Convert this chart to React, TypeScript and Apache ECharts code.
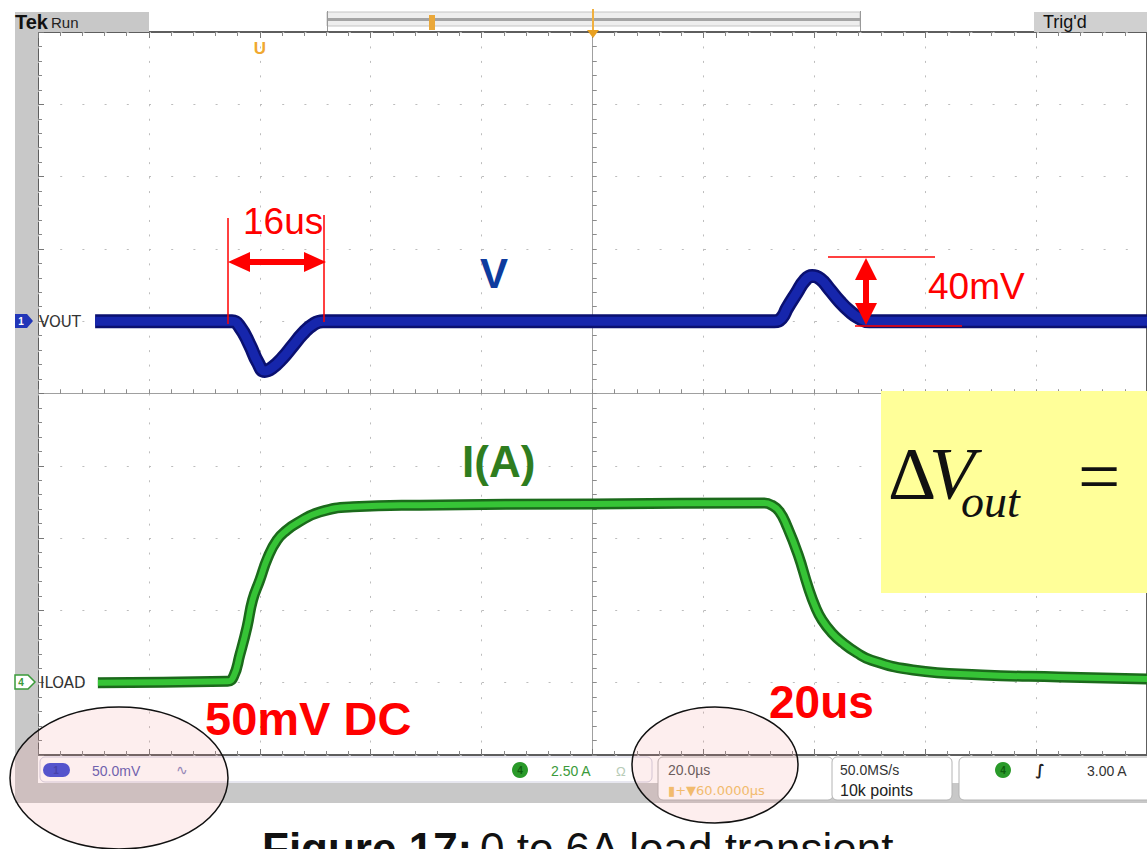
import React, { useEffect, useRef } from 'react';
import * as echarts from 'echarts';

// Oscilloscope capture: 20 us/div horizontally, CH1 50 mV/div, CH4 2.50 A/div
// Time in microseconds relative to the trigger (screen centre)
const vTime = [-89.7, -65.0, -63.6, -61.8, -60.4, -59.1, -57.8, -55.9, -54.1, -52.3, -50.5, -48.6,
  32.8, 34.1, 35.1, 36.8, 38.2, 39.6, 41.1, 42.7, 44.5, 46.3, 48.1, 49.9, 100];
// VOUT deviation (mV) from its DC level
const vOut = [0, 0, -4.0, -16.5, -28.2, -34.4, -32.3, -25.4, -17.1, -8.8, -2.6, 0,
  0, 2.2, 9.1, 19.5, 27.8, 31.3, 29.2, 22.3, 14.0, 7.1, 2.2, 0, 0];

const iTime = [-89.2, -65.8, -64.7, -63.6, -62.3, -61.3, -60.0, -58.6, -56.9, -55.1, -53.3, -49.2, -43.2, -31.2, 0,
  31.0, 32.3, 33.7, 35.1, 37.1, 38.9, 40.2, 41.4, 43.2, 45.2, 47.7, 50.3, 57.8, 70.3, 84.1, 100];
// ILOAD (A)
const iLoad = [0, 0.05, 0.23, 0.96, 1.93, 2.86, 3.55, 4.31, 4.93, 5.28, 5.52, 5.9, 6.08, 6.14, 6.18,
  6.21, 6.14, 5.92, 5.4, 4.42, 3.3, 2.62, 2.17, 1.72, 1.37, 1.03, 0.78, 0.44, 0.27, 0.2, 0.13];

const timeRange = [-100, 100];
const timePerDiv = 20;
const divRange = [-5, 5];
const voltRange = [-300, 200]; // mV, 50 mV/div
const ampRange = [-2.5, 22.5]; // A, 2.5 A/div

const SANS = "'Liberation Sans', Arial, sans-serif";
const SERIF = "'Liberation Serif', 'Times New Roman', serif";
const RED = '#ff0000';

function txt(x: number, y: number, text: string, font: string, fill: string, extra: any = {}) {
  return {
    type: 'text', x, y, z: 100,
    style: { text, font, fill, textAlign: extra.align || 'left', textVerticalAlign: 'middle', ...(extra.style || {}) },
  };
}

export default function App() {
  const ref = useRef<HTMLDivElement>(null);
  useEffect(() => {
    document.body.style.margin = '0';
    document.body.style.overflow = 'hidden';
    const chart = echarts.init(ref.current!, null, { renderer: 'svg' });
    const tickCol = '#8c8c8c';
    const centreX = (inside: boolean, split: boolean) => ({
      type: 'value', min: timeRange[0], max: timeRange[1], interval: timePerDiv,
      axisLine: { show: true, onZero: true, onZeroAxisIndex: 0, lineStyle: { color: '#a0a0a0', width: 1 } },
      axisTick: { show: true, inside, length: 4, lineStyle: { color: tickCol } },
      minorTick: { show: true, splitNumber: 5, length: 4, lineStyle: { color: tickCol } },
      axisLabel: { show: false },
      splitLine: { show: split, lineStyle: { color: '#bdbdbd', width: 1, type: [2, 12.46] } },
    });
    const centreY = (inside: boolean, split: boolean) => ({
      type: 'value', min: divRange[0], max: divRange[1], interval: 1,
      axisLine: { show: true, onZero: true, onZeroAxisIndex: 0, lineStyle: { color: '#a0a0a0', width: 1 } },
      axisTick: { show: true, inside, length: 4, lineStyle: { color: tickCol } },
      minorTick: { show: true, splitNumber: 5, length: 4, lineStyle: { color: tickCol } },
      axisLabel: { show: false },
      splitLine: { show: split, lineStyle: { color: '#bdbdbd', width: 1, type: [2, 20.2] } },
    });
    const borderX = (position: string) => ({
      type: 'value', min: timeRange[0], max: timeRange[1], interval: timePerDiv, position,
      axisLine: { show: false, onZero: false },
      axisTick: { show: true, inside: true, length: 6, lineStyle: { color: '#777' } },
      minorTick: { show: true, splitNumber: 5, length: 4, lineStyle: { color: '#888' } },
      axisLabel: { show: false }, splitLine: { show: false },
    });

    const graphic: any[] = [
      // top status strip
      { type: 'rect', z: 50, shape: { x: 15, y: 12, width: 134, height: 20 }, style: { fill: '#c8c8c8' } },
      txt(15, 22, 'Tek', `bold 20px ${SANS}`, '#111'),
      txt(51, 22, 'Run', `15px ${SANS}`, '#222'),
      { type: 'rect', z: 50, shape: { x: 327, y: 12, width: 533, height: 14 }, style: { fill: '#eeeeee', stroke: '#c4c4c4', lineWidth: 1 } },
      { type: 'line', z: 51, shape: { x1: 327, y1: 19.5, x2: 860, y2: 19.5 }, style: { stroke: '#a4a4a4', lineWidth: 3 } },
      { type: 'line', z: 51, shape: { x1: 327.5, y1: 11, x2: 327.5, y2: 31 }, style: { stroke: '#999', lineWidth: 1 } },
      { type: 'line', z: 51, shape: { x1: 860.5, y1: 11, x2: 860.5, y2: 31 }, style: { stroke: '#999', lineWidth: 1 } },
      { type: 'rect', z: 52, shape: { x: 429, y: 15, width: 6, height: 15 }, style: { fill: '#eaa83a' } },
      { type: 'line', z: 52, shape: { x1: 593, y1: 9, x2: 593, y2: 32 }, style: { stroke: '#f0b040', lineWidth: 2 } },
      { type: 'polygon', z: 52, shape: { points: [[587, 30], [599, 30], [593, 38]] }, style: { fill: '#e8a020' } },
      txt(260, 48, 'U', `bold 17px ${SANS}`, '#f0a830', { align: 'center' }),
      { type: 'rect', z: 50, shape: { x: 1034, y: 12, width: 113, height: 20 }, style: { fill: '#d0d0d0' } },
      txt(1043, 22, "Trig'd", `18px ${SANS}`, '#111'),
      // left strip and channel markers
      { type: 'rect', z: 50, shape: { x: 15, y: 32, width: 23, height: 771 }, style: { fill: '#c8c8c8' } },
      { type: 'polygon', z: 60, shape: { points: [[15, 314], [27, 314], [33, 321], [27, 328], [15, 328]] }, style: { fill: '#2236b8' } },
      txt(21, 321, '1', `bold 10px ${SANS}`, '#fff', { align: 'center' }),
      txt(39, 322, 'VOUT', `15px 'DejaVu Sans', sans-serif`, '#333'),
      { type: 'polygon', z: 60, shape: { points: [[15, 675], [28, 675], [35, 682], [28, 689], [15, 689]] }, style: { fill: '#fff', stroke: '#3a9a3a', lineWidth: 1.5 } },
      txt(21, 682, '4', `bold 10px ${SANS}`, '#3a9a3a', { align: 'center' }),
      txt(40, 683, 'ILOAD', `15px 'DejaVu Sans', sans-serif`, '#333'),
      // bottom status
      { type: 'rect', z: 50, shape: { x: 15, y: 783, width: 1132, height: 20 }, style: { fill: '#c8c8c8' } },
      { type: 'rect', z: 50, shape: { x: 38, y: 756, width: 1109, height: 27 }, style: { fill: '#fff' } },
      { type: 'rect', z: 51, shape: { x: 40, y: 757, width: 612, height: 25, r: 5 }, style: { fill: '#fff', stroke: '#cfcfe0', lineWidth: 1 } },
      { type: 'rect', z: 52, shape: { x: 43, y: 763, width: 27, height: 14, r: 7 }, style: { fill: '#3a4ad8' } },
      txt(56, 770, '1', `bold 10px ${SANS}`, '#2a36b0', { align: 'center' }),
      txt(92, 771, '50.0mV', `14px ${SANS}`, '#5a5ab4'),
      txt(176, 770, '\u223F', `14px 'DejaVu Sans', sans-serif`, '#8888c0'),
      { type: 'circle', z: 52, shape: { cx: 520, cy: 770, r: 8 }, style: { fill: '#2a9a2a' } },
      txt(520, 770, '4', `bold 10px ${SANS}`, '#0f5f0f', { align: 'center' }),
      txt(551, 771, '2.50 A', `14px ${SANS}`, '#3a9a3a'),
      txt(616, 771, '\u03A9', `13px ${SANS}`, '#b8ccb8'),
      { type: 'rect', z: 51, shape: { x: 658, y: 757, width: 175, height: 43, r: 5 }, style: { fill: '#fff', stroke: '#b4b4b4', lineWidth: 1 } },
      txt(668, 770, '20.0\u00B5s', `14px ${SANS}`, '#555'),
      txt(668, 790, '\u25AE+\u25BC60.0000\u00B5s', `13px 'DejaVu Sans', sans-serif`, '#f2c468'),
      { type: 'rect', z: 51, shape: { x: 832, y: 757, width: 120, height: 43, r: 5 }, style: { fill: '#fff', stroke: '#b4b4b4', lineWidth: 1 } },
      txt(840, 770, '50.0MS/s', `14px ${SANS}`, '#333'),
      txt(840, 790, '10k points', `16px ${SANS}`, '#222'),
      { type: 'rect', z: 51, shape: { x: 959, y: 757, width: 200, height: 43, r: 5 }, style: { fill: '#fff', stroke: '#b4b4b4', lineWidth: 1 } },
      { type: 'circle', z: 52, shape: { cx: 1003, cy: 770, r: 8 }, style: { fill: '#2a9a2a' } },
      txt(1003, 770, '4', `bold 10px ${SANS}`, '#0f5f0f', { align: 'center' }),
      txt(1040, 770, '\u222B', `bold 15px 'DejaVu Sans', sans-serif`, '#222', { align: 'center' }),
      txt(1087, 771, '3.00 A', `14px ${SANS}`, '#333'),
      // caption (cut off by the bottom edge, as in the source image)
      txt(262, 848, 'Figure 17:', `bold 44px ${SANS}`, '#111'),
      txt(480, 848, '0 to 6A load transient', `44px ${SANS}`, '#111'),
      // yellow formula box
      { type: 'rect', z: 90, shape: { x: 881, y: 391, width: 266, height: 202 }, style: { fill: '#ffff99' } },
      txt(888, 473, '\u0394', `75px ${SERIF}`, '#111'),
      txt(929, 473, 'V', `italic 75px ${SERIF}`, '#111'),
      txt(961, 501, 'out', `italic 46px ${SERIF}`, '#111'),
      txt(1078, 475, '=', `75px ${SERIF}`, '#111'),
      // 16us annotation
      { type: 'line', z: 100, shape: { x1: 228, y1: 218, x2: 228, y2: 324 }, style: { stroke: RED, lineWidth: 1.5 } },
      { type: 'line', z: 100, shape: { x1: 324, y1: 215, x2: 324, y2: 322 }, style: { stroke: RED, lineWidth: 1.5 } },
      { type: 'line', z: 100, shape: { x1: 240, y1: 262, x2: 314, y2: 262 }, style: { stroke: RED, lineWidth: 6 } },
      { type: 'polygon', z: 100, shape: { points: [[228, 262], [250, 252], [250, 272]] }, style: { fill: RED } },
      { type: 'polygon', z: 100, shape: { points: [[326, 262], [304, 252], [304, 272]] }, style: { fill: RED } },
      txt(243, 221, '16us', `37px ${SANS}`, RED),
      // 40mV annotation
      { type: 'line', z: 100, shape: { x1: 828, y1: 257, x2: 935, y2: 257 }, style: { stroke: RED, lineWidth: 1.5 } },
      { type: 'line', z: 100, shape: { x1: 855, y1: 326, x2: 962, y2: 326 }, style: { stroke: RED, lineWidth: 1.5 } },
      { type: 'line', z: 100, shape: { x1: 866, y1: 272, x2: 866, y2: 312 }, style: { stroke: RED, lineWidth: 6 } },
      { type: 'polygon', z: 100, shape: { points: [[866, 258], [855, 280], [877, 280]] }, style: { fill: RED } },
      { type: 'polygon', z: 100, shape: { points: [[866, 325], [855, 303], [877, 303]] }, style: { fill: RED } },
      txt(928, 286, '40mV', `37px ${SANS}`, RED),
      // trace labels
      txt(480, 273, 'V', `bold 42px ${SANS}`, '#0d3b9e'),
      txt(462, 461, 'I(A)', `bold 44px ${SANS}`, '#2f7d1f'),
      txt(205, 718, '50mV DC', `bold 47px ${SANS}`, RED),
      txt(769, 702, '20us', `bold 46px ${SANS}`, RED),
      // highlight ellipses
      { type: 'ellipse', z: 120, shape: { cx: 119, cy: 778, rx: 109, ry: 71 }, style: { fill: 'rgba(240,140,140,0.15)', stroke: '#111', lineWidth: 1.5 } },
      { type: 'ellipse', z: 120, shape: { cx: 715, cy: 765, rx: 83, ry: 58 }, style: { fill: 'rgba(240,140,140,0.15)', stroke: '#111', lineWidth: 1.5 } },
    ];

    const iData = iTime.map((t, i) => [t, iLoad[i]]);
    const vData = vTime.map((t, i) => [t, vOut[i]]);
    const lineSeries = (data: any[], yAxisIndex: number, color: string, width: number, z: number) => ({
      type: 'line', xAxisIndex: 0, yAxisIndex, data, showSymbol: false, silent: true,
      smooth: 0.5, z,
      lineStyle: { color, width, cap: 'butt', join: 'round' },
    });

    chart.setOption({
      animation: false,
      backgroundColor: '#ffffff',
      grid: { left: 38, top: 32, width: 1110, height: 723, show: true, borderColor: '#5e5e5e', borderWidth: 2, backgroundColor: 'transparent' },
      xAxis: [centreX(true, true), centreX(false, false), borderX('top'), borderX('bottom')],
      yAxis: [
        centreY(true, true),
        centreY(false, false),
        {
          type: 'value', min: divRange[0], max: divRange[1], interval: 1, position: 'left',
          axisLine: { show: false, onZero: false },
          axisTick: { show: true, inside: true, length: 6, lineStyle: { color: '#777' } },
          minorTick: { show: true, splitNumber: 5, length: 4, lineStyle: { color: '#888' } },
          axisLabel: { show: false }, splitLine: { show: false },
        },
        { type: 'value', min: voltRange[0], max: voltRange[1], show: false, splitLine: { show: false } },
        { type: 'value', min: ampRange[0], max: ampRange[1], show: false, splitLine: { show: false } },
      ],
      series: [
        lineSeries(iData, 4, '#1b6a1b', 11, 3),
        lineSeries(iData, 4, '#36c436', 6, 4),
        lineSeries(vData, 3, '#0a1070', 14, 5),
        lineSeries(vData, 3, '#1626ac', 9, 6),
      ],
      graphic,
    });
    return () => chart.dispose();
  }, []);
  return <div ref={ref} style={{ position: 'absolute', left: 0, top: 0, width: 1147, height: 849 }} />;
}
